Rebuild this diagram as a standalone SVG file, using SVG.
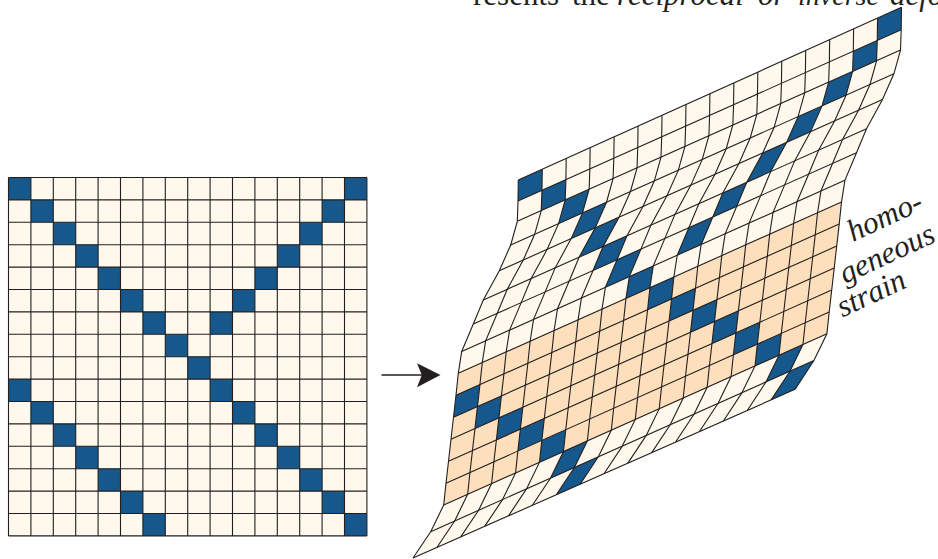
<svg xmlns="http://www.w3.org/2000/svg" width="938" height="559" viewBox="0 0 938 559">
<style>
.cream{fill:#fef9ec}
.orange{fill:#fddfbc}
.blue{fill:#17588c}
.ln{fill:none;stroke:#231f20;stroke-width:1.1}
.t{font-family:"Liberation Serif",serif;font-size:31px;fill:#231f20}
.i{font-style:italic}
</style>
<defs>
<rect id="lc" class="blue" width="22.4" height="22.4"/>
<polygon id="b1" class="blue" points="518,201 541.95,190.3 541.25,210.6 517.3,221.3"/>
<polygon id="b2" class="blue" points="517.3,221.3 541.25,210.6 534.65,234.3 510.7,245"/>
<polygon id="b3" class="blue" points="510.7,245 534.65,234.3 523.25,260 499.3,270.7"/>
<polygon id="b4" class="blue" points="499.3,270.7 523.25,260 507.25,289.3 483.3,300"/>
<polygon id="b5" class="blue" points="483.3,300 507.25,289.3 497.25,313.3 473.3,324"/>
<polygon id="b6" class="blue" points="473.3,324 497.25,313.3 485.65,340.8 461.7,351.5"/>
<polygon id="b7" class="blue" points="461.7,351.5 485.65,340.8 482.25,362.6 458.3,373.3"/>
<polygon id="b8" class="blue" points="458.3,373.3 482.25,362.6 479.95,384.6 456,395.3"/>
<polygon id="b9" class="blue" points="456,395.3 479.95,384.6 477.45,406.6 453.5,417.3"/>
<polygon id="b10" class="blue" points="453.5,417.3 477.45,406.6 474.95,428.6 451,439.3"/>
<polygon id="b11" class="blue" points="451,439.3 474.95,428.6 472.45,450.6 448.5,461.3"/>
<polygon id="b12" class="blue" points="448.5,461.3 472.45,450.6 469.95,472.5 446,483.2"/>
<polygon id="b13" class="blue" points="446,483.2 469.95,472.5 467.65,494.3 443.7,505"/>
<polygon id="b14" class="blue" points="443.7,505 467.65,494.3 454.65,521 430.7,531.7"/>
<polyline id="col" class="ln" points="518,201 517.3,221.3 510.7,245 499.3,270.7 483.3,300 473.3,324 461.7,351.5 458.3,373.3 456,395.3 453.5,417.3 451,439.3 448.5,461.3 446,483.2 443.7,505 430.7,531.7"/>
</defs>
<g id="source-grid">
<rect class="cream" x="8.5" y="177.5" width="358.4" height="358.4"/>
<use href="#lc" x="8.5" y="177.5"/><use href="#lc" x="344.5" y="177.5"/>
<use href="#lc" x="30.9" y="199.9"/><use href="#lc" x="322.1" y="199.9"/>
<use href="#lc" x="53.3" y="222.3"/><use href="#lc" x="299.7" y="222.3"/>
<use href="#lc" x="75.7" y="244.7"/><use href="#lc" x="277.3" y="244.7"/>
<use href="#lc" x="98.1" y="267.1"/><use href="#lc" x="254.9" y="267.1"/>
<use href="#lc" x="120.5" y="289.5"/><use href="#lc" x="232.5" y="289.5"/>
<use href="#lc" x="142.9" y="311.9"/><use href="#lc" x="210.1" y="311.9"/>
<use href="#lc" x="165.3" y="334.3"/>
<use href="#lc" x="187.7" y="356.7"/>
<use href="#lc" x="8.5" y="379.1"/><use href="#lc" x="210.1" y="379.1"/>
<use href="#lc" x="30.9" y="401.5"/><use href="#lc" x="232.5" y="401.5"/>
<use href="#lc" x="53.3" y="423.9"/><use href="#lc" x="254.9" y="423.9"/>
<use href="#lc" x="75.7" y="446.3"/><use href="#lc" x="277.3" y="446.3"/>
<use href="#lc" x="98.1" y="468.7"/><use href="#lc" x="299.7" y="468.7"/>
<use href="#lc" x="120.5" y="491.1"/><use href="#lc" x="322.1" y="491.1"/>
<use href="#lc" x="142.9" y="513.5"/><use href="#lc" x="344.5" y="513.5"/>
<path class="ln" d="M8.5 177.5V535.9M30.9 177.5V535.9M53.3 177.5V535.9M75.7 177.5V535.9M98.1 177.5V535.9M120.5 177.5V535.9M142.9 177.5V535.9M165.3 177.5V535.9M187.7 177.5V535.9M210.1 177.5V535.9M232.5 177.5V535.9M254.9 177.5V535.9M277.3 177.5V535.9M299.7 177.5V535.9M322.1 177.5V535.9M344.5 177.5V535.9M366.9 177.5V535.9"/>
<path class="ln" d="M8.5 177.5H366.9M8.5 199.9H366.9M8.5 222.3H366.9M8.5 244.7H366.9M8.5 267.1H366.9M8.5 289.5H366.9M8.5 311.9H366.9M8.5 334.3H366.9M8.5 356.7H366.9M8.5 379.1H366.9M8.5 401.5H366.9M8.5 423.9H366.9M8.5 446.3H366.9M8.5 468.7H366.9M8.5 491.1H366.9M8.5 513.5H366.9M8.5 535.9H366.9"/>
</g>
<g id="arrow">
<path d="M381.5 375H426" fill="none" stroke="#231f20" stroke-width="1.6"/>
<path d="M440.5 375L417 363.3L421.8 375L417 387.3Z" fill="#231f20"/>
</g>
<g id="deformed-grid">
<polygon class="cream" points="518.3,180 518,201 517.3,221.3 510.7,245 499.3,270.7 483.3,300 473.3,324 461.7,351.5 458.3,373.3 456,395.3 453.5,417.3 451,439.3 448.5,461.3 446,483.2 443.7,505 430.7,531.7 413,558 795,389.36 813.9,360.5 826.9,333.8 829.2,312 831.7,290.1 834.2,268.1 836.7,246.1 839.2,224.1 841.5,202.1 844.9,180.3 856.5,152.8 866.5,128.8 882.5,99.5 893.9,73.8 900.5,50.1 901.2,29.8 901.5,7.36"/>
<polygon class="orange" points="458.3,373.3 456,395.3 453.5,417.3 451,439.3 448.5,461.3 446,483.2 443.7,505 826.9,333.8 829.2,312 831.7,290.1 834.2,268.1 836.7,246.1 839.2,224.1 841.5,202.1"/>
<polygon class="blue" points="518.3,180 542.25,169.21 541.95,190.3 518,201"/>
<polygon class="blue" points="877.55,18.15 901.5,7.36 901.2,29.8 877.25,40.5"/>
<use href="#b1" transform="translate(23.95,-10.7)"/><use href="#b1" transform="translate(335.3,-149.8)"/>
<use href="#b2" transform="translate(47.9,-21.4)"/><use href="#b2" transform="translate(311.35,-139.1)"/>
<use href="#b3" transform="translate(71.85,-32.1)"/><use href="#b3" transform="translate(287.4,-128.4)"/>
<use href="#b4" transform="translate(95.8,-42.8)"/><use href="#b4" transform="translate(263.45,-117.7)"/>
<use href="#b5" transform="translate(119.75,-53.5)"/><use href="#b5" transform="translate(239.5,-107)"/>
<use href="#b6" transform="translate(143.7,-64.2)"/><use href="#b6" transform="translate(215.55,-96.3)"/>
<use href="#b7" transform="translate(167.65,-74.9)"/>
<use href="#b8" transform="translate(191.6,-85.6)"/>
<use href="#b9"/><use href="#b9" transform="translate(215.55,-96.3)"/>
<use href="#b10" transform="translate(23.95,-10.7)"/><use href="#b10" transform="translate(239.5,-107)"/>
<use href="#b11" transform="translate(47.9,-21.4)"/><use href="#b11" transform="translate(263.45,-117.7)"/>
<use href="#b12" transform="translate(71.85,-32.1)"/><use href="#b12" transform="translate(287.4,-128.4)"/>
<use href="#b13" transform="translate(95.8,-42.8)"/><use href="#b13" transform="translate(311.35,-139.1)"/>
<use href="#b14" transform="translate(119.75,-53.5)"/><use href="#b14" transform="translate(335.3,-149.8)"/>
<polygon class="blue" points="574.4,467.5 598.35,456.8 580.13,484.22 556.25,494.76"/>
<polygon class="blue" points="789.95,371.2 813.9,360.5 795,389.36 771.13,399.9"/>
<use href="#col"/>
<use href="#col" transform="translate(23.95,-10.7)"/>
<use href="#col" transform="translate(47.9,-21.4)"/>
<use href="#col" transform="translate(71.85,-32.1)"/>
<use href="#col" transform="translate(95.8,-42.8)"/>
<use href="#col" transform="translate(119.75,-53.5)"/>
<use href="#col" transform="translate(143.7,-64.2)"/>
<use href="#col" transform="translate(167.65,-74.9)"/>
<use href="#col" transform="translate(191.6,-85.6)"/>
<use href="#col" transform="translate(215.55,-96.3)"/>
<use href="#col" transform="translate(239.5,-107)"/>
<use href="#col" transform="translate(263.45,-117.7)"/>
<use href="#col" transform="translate(287.4,-128.4)"/>
<use href="#col" transform="translate(311.35,-139.1)"/>
<use href="#col" transform="translate(335.3,-149.8)"/>
<use href="#col" transform="translate(359.25,-160.5)"/>
<use href="#col" transform="translate(383.2,-171.2)"/>
<path class="ln" d="M518.3 180L518 201M542.25 169.21L541.95 190.3M566.2 158.42L565.9 179.6M590.15 147.63L589.85 168.9M614.1 136.84L613.8 158.2M638.05 126.05L637.75 147.5M662 115.26L661.7 136.8M685.95 104.47L685.65 126.1M709.9 93.68L709.6 115.4M733.85 82.89L733.55 104.7M757.8 72.1L757.5 94M781.75 61.31L781.45 83.3M805.7 50.52L805.4 72.6M829.65 39.73L829.35 61.9M853.6 28.94L853.3 51.2M877.55 18.15L877.25 40.5M901.5 7.36L901.2 29.8"/>
<path class="ln" d="M430.7 531.7L413 558M454.65 521L436.88 547.46M478.6 510.3L460.75 536.92M502.55 499.6L484.63 526.38M526.5 488.9L508.5 515.84M550.45 478.2L532.38 505.3M574.4 467.5L556.25 494.76M598.35 456.8L580.13 484.22M622.3 446.1L604 473.68M646.25 435.4L627.88 463.14M670.2 424.7L651.75 452.6M694.15 414L675.63 442.06M718.1 403.3L699.5 431.52M742.05 392.6L723.38 420.98M766 381.9L747.25 410.44M789.95 371.2L771.13 399.9M813.9 360.5L795 389.36"/>
<path class="ln" d="M518.3 180L901.5 7.36M518 201L901.2 29.8M517.3 221.3L900.5 50.1M510.7 245L893.9 73.8M499.3 270.7L882.5 99.5M483.3 300L866.5 128.8M473.3 324L856.5 152.8M461.7 351.5L844.9 180.3M458.3 373.3L841.5 202.1M456 395.3L839.2 224.1M453.5 417.3L836.7 246.1M451 439.3L834.2 268.1M448.5 461.3L831.7 290.1M446 483.2L829.2 312M443.7 505L826.9 333.8M430.7 531.7L813.9 360.5M413 558L795 389.36"/>
</g>
<g id="labels">
<text class="t" y="5"><tspan x="473">resents</tspan> <tspan x="572">the</tspan> <tspan class="i" x="617">reciprocal</tspan> <tspan class="i" x="758">or</tspan> <tspan class="i" x="798" font-size="28">inverse</tspan> <tspan class="i" x="890">defo</tspan></text>
<text class="t i" transform="translate(853,242) rotate(-25)">homo-</text>
<text class="t i" transform="translate(845,284) rotate(-25)">geneous</text>
<text class="t i" transform="translate(842.5,317.5) rotate(-25)">strain</text>
</g>
</svg>
